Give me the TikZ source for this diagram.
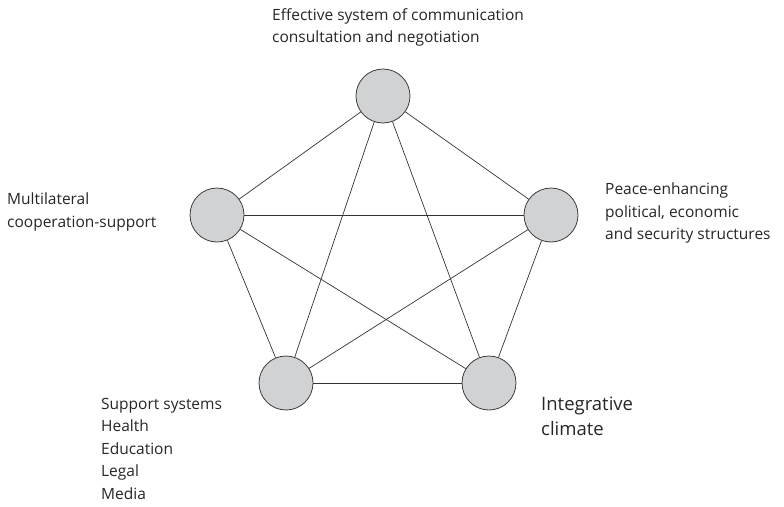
\documentclass[tikz,border=0pt]{standalone}
\usepackage{fontspec}
\setmainfont{Open Sans}
\usepackage{tikz}
\usetikzlibrary{backgrounds}
\definecolor{discfill}{RGB}{209,210,212}
\definecolor{discline}{RGB}{60,60,60}
\tikzset{factor node/.style={circle, draw=discline, fill=discfill, line width=0.8pt,
    minimum size=54pt, inner sep=0pt}}
\tikzset{factor label/.style={align=left, anchor=north west, inner sep=0pt,
    font=\fontsize{15.5}{22.5}\selectfont, text=black!85}}
\tikzset{link edge/.style={draw=black!80, line width=0.7pt}}

\begin{document}
\begin{tikzpicture}
  [x=1pt, y=-1pt]
  \useasboundingbox (0,0) rectangle (784,506);

  \node [factor node] (comm)    at (383, 96) {};
  \node [factor node] (multi)   at (217,215) {};
  \node [factor node] (peace)   at (551,215) {};
  \node [factor node] (support) at (286,383) {};
  \node [factor node] (climate) at (489,383) {};

  \node [factor label] (comm text)    at (272,  8) {Effective system of communication\\consultation and negotiation};
  \node [factor label] (multi text)   at (  7,193) {Multilateral\\cooperation-support};
  \node [factor label] (peace text)   at (605,183) {Peace-enhancing\\political, economic\\and security structures};
  \node [factor label] (support text) at (101,398) {Support systems\\Health\\Education\\Legal\\Media};
  \node [factor label, font=\fontsize{18.5}{25}\selectfont] (climate text) at (541,397) {Integrative\\climate};

  \begin{scope}[on background layer]
    \foreach \a/\b in {comm/multi, comm/peace, comm/support, comm/climate,
                       multi/peace, multi/support, multi/climate,
                       peace/support, peace/climate, support/climate}
      \draw [link edge] (\a) -- (\b);
  \end{scope}
\end{tikzpicture}
\end{document}
